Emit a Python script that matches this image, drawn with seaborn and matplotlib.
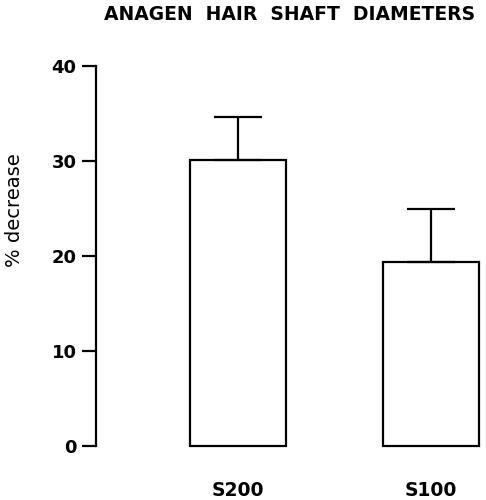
import matplotlib
matplotlib.use('Agg')
import matplotlib.pyplot as plt
import seaborn as sns
import pandas as pd

# data
groups = ['S200', 'S100']
pct_decrease = [30.1, 19.4]
err_upper = [4.5, 5.6]
y_ticks = [0, 10, 20, 30, 40]

sns.set_style('white')
plt.rcParams['font.family'] = ['DejaVu Sans']

df = pd.DataFrame({'group': groups, 'value': pct_decrease})

fig = plt.figure(figsize=(4.86, 5.0), dpi=100)
ax = fig.add_axes([96 / 486, 54 / 500, (482 - 96) / 486, 380 / 500])

sns.barplot(data=df, x='group', y='value', ax=ax, width=0.5, fill=False,
            color='black', linewidth=1.6, errorbar=None)
for p in ax.patches:
    p.set_edgecolor('black')
    p.set_clip_on(False)

ax.errorbar(range(len(groups)), pct_decrease,
            yerr=[[0] * len(groups), err_upper], fmt='none',
            ecolor='black', elinewidth=1.6, capsize=17, capthick=1.6)

ax.set_ylim(0, 40)
ax.set_xlim(-0.736, 1.264)
ax.set_yticks(y_ticks)
ax.set_yticklabels([str(t) for t in y_ticks], fontweight='bold', fontsize=13)
ax.set_xticks(range(len(groups)))
ax.set_xticklabels(groups, fontweight='bold', fontsize=13.5)

sns.despine(ax=ax, bottom=True)
ax.spines['left'].set_linewidth(1.6)
ax.spines['left'].set_color('black')
ax.tick_params(axis='y', left=True, direction='out', length=10, width=1.6,
               pad=4, colors='black')
ax.tick_params(axis='x', bottom=False, length=0, pad=25, colors='black')
ax.set_xlabel('')
ax.set_ylabel('')

fig.text(15 / 486, 1 - 210 / 500, '% decrease', rotation=90, ha='center',
         va='center', fontsize=14, color='black')
fig.text(290 / 486, 1 - 14 / 500, 'ANAGEN  HAIR  SHAFT  DIAMETERS',
         ha='center', va='center', fontsize=13.5, fontweight='bold',
         color='black')

fig.savefig('out.png', dpi=100)
